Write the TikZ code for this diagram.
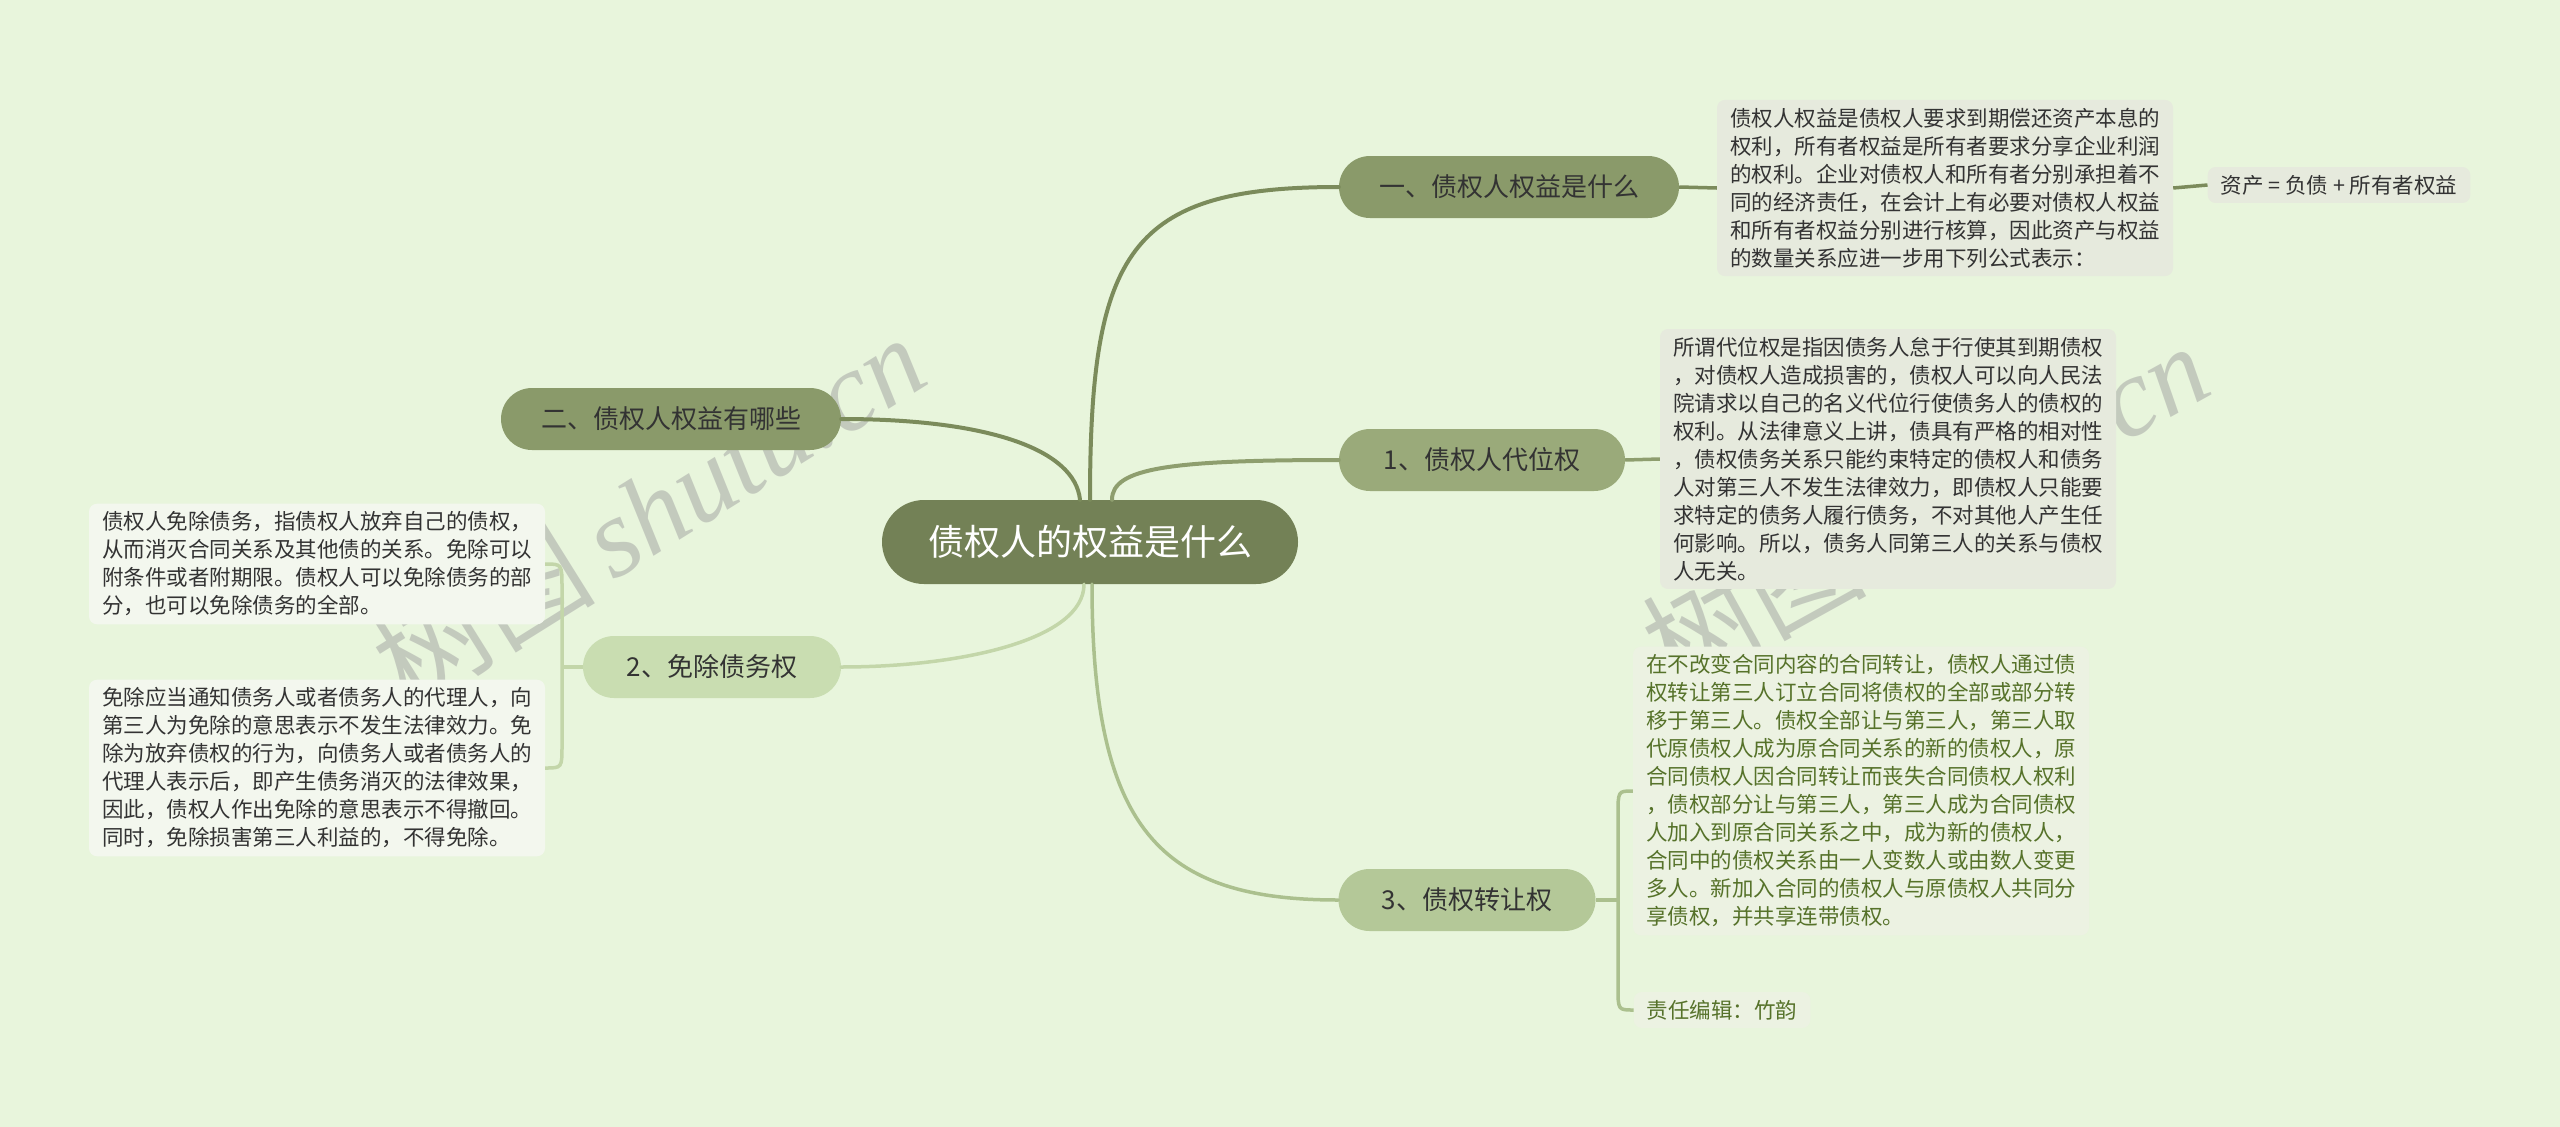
\documentclass[tikz,border=0pt]{standalone}
\usepackage{fontspec}
\newfontfamily\cjk{Noto Sans CJK SC}
\newfontfamily\wmserif{Liberation Serif}
\definecolor{bgc}{HTML}{E8F5DC}
\definecolor{rootc}{HTML}{738156}
\definecolor{b1c}{HTML}{8A9A6A}
\definecolor{b2c}{HTML}{9AAA7A}
\definecolor{b3c}{HTML}{B4C898}
\definecolor{b4c}{HTML}{C9DDB1}
\definecolor{l1c}{HTML}{7B8B5B}
\definecolor{l2c}{HTML}{8E9E6E}
\definecolor{l3c}{HTML}{ABC08E}
\definecolor{l4c}{HTML}{C3D6A9}
\definecolor{boxa}{HTML}{E6EADD}
\definecolor{boxb}{HTML}{ECF2E2}
\definecolor{boxc}{HTML}{F3F7EE}
\definecolor{darktxt}{HTML}{333333}
\definecolor{greentxt}{HTML}{56722A}
\definecolor{wmc}{HTML}{A0A0A0}
\begin{document}
\begin{tikzpicture}[x=1pt,y=-1pt,
  txtbox/.style={font=\cjk\fontsize{21.5}{28}\selectfont, align=left, inner xsep=13pt, inner ysep=8pt, rounded corners=8pt, text=darktxt},
  branch/.style={font=\cjk\fontsize{26}{30}\selectfont, rounded corners=31pt, minimum height=62pt, inner sep=0pt, text=darktxt},
  rootnode/.style={font=\cjk\fontsize{36}{40}\selectfont, rounded corners=42pt, minimum height=84pt, minimum width=416pt, inner sep=0pt, text=white, fill=rootc},
  conn/.style={line width=4pt, line cap=round},
  wm/.style={text=wmc, opacity=0.5}
]
\fill[bgc] (0,0) rectangle (2560,1127);
\useasboundingbox (0,0) rectangle (2560,1127);

% watermarks
\node[wm, rotate=32] (wm1) at (648,510) {\cjk\fontsize{112}{120}\selectfont 树图\,\wmserif\itshape shutu.cn};
\node[wm, rotate=29] (wm2) at (1925,505) {\cjk\fontsize{112}{120}\selectfont 树图\,\wmserif\itshape shutu.cn};

% root
\node[rootnode] (root) at (1090,542) {债权人的权益是什么};

% branches
\node[branch, fill=b1c, minimum width=340pt] (n1) at (1509,187) {一、债权人权益是什么};
\node[branch, fill=b2c, minimum width=286pt] (n11) at (1482,460) {1、债权人代位权};
\node[branch, fill=b3c, minimum width=257pt] (n13) at (1467,900) {3、债权转让权};
\node[branch, fill=b1c, minimum width=340pt] (n2) at (671,419) {二、债权人权益有哪些};
\node[branch, fill=b4c, minimum width=258pt] (n12) at (712,667) {2、免除债务权};

% text boxes
\node[txtbox, fill=boxa] (t1) at (1945,188) {债权人权益是债权人要求到期偿还资产本息的\\权利，所有者权益是所有者要求分享企业利润\\的权利。企业对债权人和所有者分别承担着不\\同的经济责任，在会计上有必要对债权人权益\\和所有者权益分别进行核算，因此资产与权益\\的数量关系应进一步用下列公式表示：};
\node[txtbox, fill=boxa] (f1) at (2339,185) {资产 = 负债 + 所有者权益};
\node[txtbox, fill=boxa] (t2) at (1888,459) {所谓代位权是指因债务人怠于行使其到期债权\\，对债权人造成损害的，债权人可以向人民法\\院请求以自己的名义代位行使债务人的债权的\\权利。从法律意义上讲，债具有严格的相对性\\，债权债务关系只能约束特定的债权人和债务\\人对第三人不发生法律效力，即债权人只能要\\求特定的债务人履行债务，不对其他人产生任\\何影响。所以，债务人同第三人的关系与债权\\人无关。};
\node[txtbox, fill=boxb, text=greentxt] (t3) at (1861,791) {在不改变合同内容的合同转让，债权人通过债\\权转让第三人订立合同将债权的全部或部分转\\移于第三人。债权全部让与第三人，第三人取\\代原债权人成为原合同关系的新的债权人，原\\合同债权人因合同转让而丧失合同债权人权利\\，债权部分让与第三人，第三人成为合同债权\\人加入到原合同关系之中，成为新的债权人，\\合同中的债权关系由一人变数人或由数人变更\\多人。新加入合同的债权人与原债权人共同分\\享债权，并共享连带债权。};
\node[txtbox, fill=boxb, text=greentxt] (ed) at (1722,1010) {责任编辑：竹韵};
\node[txtbox, fill=boxc] (t4) at (317,564) {债权人免除债务，指债权人放弃自己的债权，\\从而消灭合同关系及其他债的关系。免除可以\\附条件或者附期限。债权人可以免除债务的部\\分，也可以免除债务的全部。};
\node[txtbox, fill=boxc] (t5) at (317,768) {免除应当通知债务人或者债务人的代理人，向\\第三人为免除的意思表示不发生法律效力。免\\除为放弃债权的行为，向债务人或者债务人的\\代理人表示后，即产生债务消灭的法律效果，\\因此，债权人作出免除的意思表示不得撤回。\\同时，免除损害第三人利益的，不得免除。};

% main connectors
\draw[conn, l1c] ([xshift=0pt]root.north) .. controls (1090,250) and (1130,187) .. (n1.west);
\draw[conn, l2c] ([xshift=22pt]root.north) .. controls (1112,468) and (1170,460) .. (n11.west);
\draw[conn, l3c, line width=3.5pt] ([xshift=2pt]root.south) .. controls (1092,830) and (1160,900) .. (n13.west);
\draw[conn, l1c] ([xshift=-10pt]root.north) .. controls (1075,450) and (990,419) .. (n2.east);
\draw[conn, l4c, line width=3.5pt] ([xshift=-6pt]root.south) .. controls (1084,640) and (960,667) .. (n12.east);

% short connectors
\draw[conn, l1c, line width=3.5pt, line cap=butt] (n1.east) -- (t1.west);
\draw[conn, l1c, line width=3.5pt, line cap=butt] (t1.east) -- (f1.west);
\draw[conn, l2c, line width=3.5pt, line cap=butt] (n11.east) -- (t2.west);

% right bracket
\coordinate (rb) at (1618,900);
\draw[conn, l3c, line width=3.5pt, line cap=butt] (n13.east) -- (rb);
\draw[l3c, line width=3.5pt] (t3.west) .. controls (1618,791) .. (1618,815) -- (1618,987) .. controls (1618,1010) .. (ed.west);

% left bracket
\coordinate (lb) at (562,667);
\draw[conn, l4c, line width=3.5pt, line cap=butt] (n12.west) -- (lb);
\draw[l4c, line width=3.5pt] (t4.east) .. controls (562,564) .. (562,588) -- (562,745) .. controls (562,768) .. (t5.east);
\end{tikzpicture}
\end{document}
